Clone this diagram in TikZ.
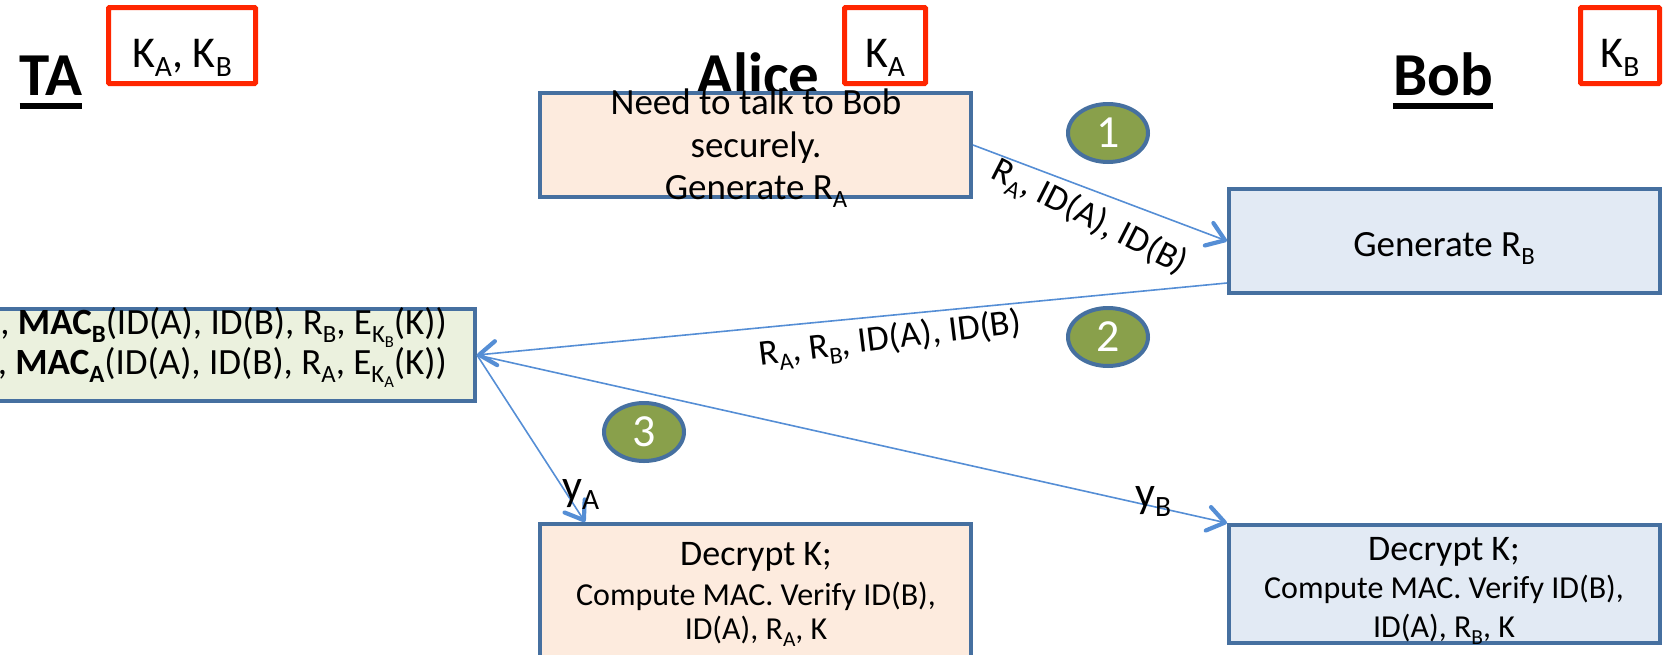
\documentclass[tikz,border=0pt]{standalone}
\usepackage{fontspec}
\usepackage{graphicx}
\setmainfont{Carlito}
\usetikzlibrary{arrows.meta,calc,shapes.geometric}

\definecolor{boxline}{RGB}{70,112,160}
\definecolor{peach}{RGB}{253,235,222}
\definecolor{paleblue}{RGB}{226,234,244}
\definecolor{palegreen}{RGB}{235,241,222}
\definecolor{keyred}{RGB}{255,38,0}
\definecolor{msgline}{RGB}{85,142,213}
\definecolor{olive}{RGB}{137,160,75}

% lowered, reduced subscript in the running text font
\newcommand{\sbs}[1]{\raisebox{-0.22em}{\scalebox{0.67}{#1}}}
\newcommand{\fsz}[1]{\fontsize{#1}{#1}\selectfont}

\begin{document}
\begin{tikzpicture}[x=1pt,y=-1pt,
  box/.style={draw=boxline,line width=4pt,inner sep=0pt,anchor=north west},
  keybox/.style={draw=keyred,line width=5pt,rounded corners=1pt,inner sep=0pt,anchor=north west},
  title/.style={inner sep=0pt,anchor=base,font=\fsz{61}\bfseries},
  keytext/.style={inner sep=0pt,anchor=base,font=\fsz{44}},
  txt/.style={inner sep=0pt,anchor=base,font=\fsz{37}},
  small/.style={inner sep=0pt,anchor=base,font=\fsz{32}},
  lbl/.style={inner sep=0pt,font=\fsz{36}},
  ylbl/.style={inner sep=0pt,anchor=base west,font=\fsz{44}},
  step circle/.style={ellipse,draw=boxline,line width=4pt,fill=olive,
    minimum width=80,minimum height=58,inner sep=0pt,text=white,font=\fsz{46}},
  msg/.style={draw=msgline,line width=1.6pt,
    -{Straight Barb[length=17pt,width=24pt,line width=4.2pt,round]}}]

\useasboundingbox (0,0) rectangle (1663,654);

% party names
\node[title] (tatitle) at (51,95) {TA};
\node[title] (alicetitle) at (758,95) {Alice};
\node[title] (bobtitle) at (1443,95) {Bob};
\draw[line width=6pt] ([yshift=-11pt]tatitle.base west) -- ([yshift=-11pt]tatitle.base east);
\draw[line width=6pt] ([yshift=-11pt]bobtitle.base west) -- ([yshift=-11pt]bobtitle.base east);

% keys held by each party
\node[keybox,minimum width=147,minimum height=76] (kab) at (106,5) {};
\node[keybox,minimum width=81,minimum height=76] (ka) at (842,5) {};
\node[keybox,minimum width=79,minimum height=76] (kb) at (1578,5) {};
\node[keytext] (kabtext) at (182,67) {K\sbs{A}, K\sbs{B}};
\node[keytext] (katext) at (885,67) {K\sbs{A}};
\node[keytext] (kbtext) at (1620,67) {K\sbs{B}};

% protocol steps
\node[box,fill=peach,minimum width=431,minimum height=104] (alice1) at (538,91) {};
\node[box,fill=paleblue,minimum width=431,minimum height=104] (bob1) at (1227,187) {};
\node[box,fill=palegreen,minimum width=505,minimum height=92] (ta) at (-32,307) {};
\node[box,fill=peach,minimum width=431,minimum height=136] (alice2) at (538,522) {};
\node[box,fill=paleblue,minimum width=431,minimum height=118] (bob2) at (1227,523) {};

\node[txt] (a1l1) at (756,114) {Need to talk to Bob};
\node[txt] (a1l2) at (756,157) {securely.};
\node[txt] (a1l3) at (756,199) {Generate R\sbs{A}};

\node[txt] (b1l1) at (1444,256) {Generate R\sbs{B}};

\node[txt,anchor=base east] (tal1) at (447,334)
  {, \textbf{MAC\sbs{B}}(ID(A), ID(B), R\sbs{B}, E\sbs{K\sbs{B}}(K))};
\node[txt,anchor=base east] (tal2) at (447,374)
  {, \textbf{MAC\sbs{A}}(ID(A), ID(B), R\sbs{A}, E\sbs{K\sbs{A}}(K))};

\node[txt,font=\fsz{36}] (a2l1) at (756,565) {Decrypt K;};
\node[small] (a2l2) at (756,605) {Compute MAC. Verify ID(B),};
\node[small] (a2l3) at (756,639) {ID(A), R\sbs{A}, K};

\node[txt,font=\fsz{36}] (b2l1) at (1444,560) {Decrypt K;};
\node[small] (b2l2) at (1444,598) {Compute MAC. Verify ID(B),};
\node[small] (b2l3) at (1444,637) {ID(A), R\sbs{B}, K};

% messages
\draw[msg] (alice1.east) -- (bob1.west);
\draw[msg] ($(bob1.south west)+(0,-12)$) -- (ta.east);
\draw[msg] (ta.east) -- ($(alice2.north west)+(47,0)$);
\draw[msg] (ta.east) -- (bob2.north west);

\node[lbl,rotate=-27] (m1) at (1089,218) {R\sbs{A}, ID(A), ID(B)};
\node[lbl,rotate=7] (m2) at (890,340) {R\sbs{A}, R\sbs{B}, ID(A), ID(B)};
\node[ylbl] (ya) at (562,500) {y\sbs{A}};
\node[ylbl] (yb) at (1135,507) {y\sbs{B}};

% step numbers
\node[step circle] (s1) at (1108,133) {1};
\node[step circle] (s2) at (1108,337) {2};
\node[step circle] (s3) at (644,432) {3};
\end{tikzpicture}
\end{document}
